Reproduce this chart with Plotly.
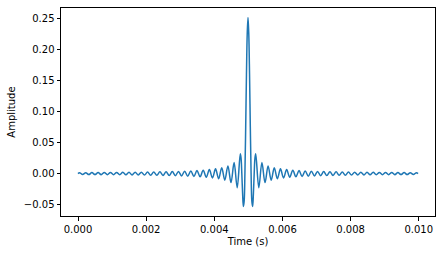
import plotly.graph_objects as go

SAMPLE_RATE = 44100  # Hz

# sample positions (index at SAMPLE_RATE) of the curve's extrema / key points
sample_index = (
    [0]
    + [2, 6, 10, 14, 18, 22, 26, 30, 34, 38, 42, 46, 50, 54, 58, 62, 66, 70,
       74, 78, 82, 86, 90, 94, 98, 102, 106, 110, 114, 118, 122, 126, 130,
       134, 138, 142, 146, 150, 154, 158, 162, 166, 170, 174, 178, 182, 186,
       190, 194, 198, 202, 206, 210]
    + [211, 212, 213, 214, 215, 216, 217, 218, 219, 220, 221, 222, 223, 224,
       225, 226, 227, 228, 229]
    + [230, 234, 238, 242, 246, 250, 254, 258, 262, 266, 270, 274, 278, 282,
       286, 290, 294, 298, 302, 306, 310, 314, 318, 322, 326, 330, 334, 338,
       342, 346, 350, 354, 358, 362, 366, 370, 374, 378, 382, 386, 390, 394,
       398, 402, 406, 410, 414, 418, 422, 426, 430, 434, 438]
    + [440]
)

amplitude = (
    [0.0]
    + [0.0015, -0.0015, 0.0015, -0.0016, 0.0016, -0.0016, 0.0016, -0.0017,
       0.0017, -0.0017, 0.0018, -0.0018, 0.0019, -0.0019, 0.0020, -0.0020,
       0.0021, -0.0021, 0.0022, -0.0022, 0.0023, -0.0024, 0.0024, -0.0025,
       0.0026, -0.0027, 0.0028, -0.0029, 0.0030, -0.0031, 0.0032, -0.0034,
       0.0035, -0.0037, 0.0039, -0.0041, 0.0043, -0.0045, 0.0048, -0.0051,
       0.0055, -0.0059, 0.0064, -0.0069, 0.0076, -0.0084, 0.0094, -0.0106,
       0.0122, -0.0145, 0.0177, -0.0227, 0.0318]
    + [0.0250, 0.0, -0.0322, -0.0531, -0.0450, 0.0, 0.0750, 0.1592, 0.2251,
       0.2515, 0.2251, 0.1592, 0.0750, 0.0, -0.0450, -0.0531, -0.0322, 0.0,
       0.0250]
    + [0.0318, -0.0227, 0.0177, -0.0145, 0.0122, -0.0106, 0.0094, -0.0084,
       0.0076, -0.0069, 0.0064, -0.0059, 0.0055, -0.0051, 0.0048, -0.0045,
       0.0043, -0.0041, 0.0039, -0.0037, 0.0035, -0.0034, 0.0032, -0.0031,
       0.0030, -0.0029, 0.0028, -0.0027, 0.0026, -0.0025, 0.0024, -0.0024,
       0.0023, -0.0022, 0.0022, -0.0021, 0.0021, -0.0020, 0.0020, -0.0019,
       0.0019, -0.0018, 0.0018, -0.0017, 0.0017, -0.0017, 0.0016, -0.0016,
       0.0016, -0.0016, 0.0015, -0.0015, 0.0015]
    + [0.0]
)

x_ticks = [0.000, 0.002, 0.004, 0.006, 0.008, 0.010]
y_ticks = [-0.05, 0.00, 0.05, 0.10, 0.15, 0.20, 0.25]

time_s = [i / SAMPLE_RATE for i in sample_index]

fig = go.Figure()
fig.add_trace(go.Scatter(
    x=time_s, y=amplitude, mode="lines",
    line=dict(color="#1f77b4", width=1.5, shape="spline", smoothing=1.0),
    showlegend=False, hoverinfo="skip",
))

font = dict(family="DejaVu Sans", size=10, color="black")
axis_common = dict(
    showgrid=False, zeroline=False, showline=True, linecolor="black",
    linewidth=1, mirror=True, ticks="outside", ticklen=3.5, tickwidth=1,
    tickcolor="black", tickfont=font,
)

fig.update_layout(
    width=442, height=255,
    margin=dict(l=61, r=7, t=8, b=39),
    paper_bgcolor="white", plot_bgcolor="white",
    font=font,
    xaxis=dict(
        range=[-0.000499, 0.010476], tickvals=x_ticks,
        ticktext=[f"{v:.3f}" for v in x_ticks],
        title=dict(text="Time (s)", font=font, standoff=4),
        **axis_common,
    ),
    yaxis=dict(
        range=[-0.0683, 0.2667], tickvals=y_ticks,
        ticktext=[("\u2212" if v < 0 else "") + f"{abs(v):.2f}" for v in y_ticks],
        title=dict(text="Amplitude", font=font, standoff=6),
        **axis_common,
    ),
)

fig.write_html("out.html")
